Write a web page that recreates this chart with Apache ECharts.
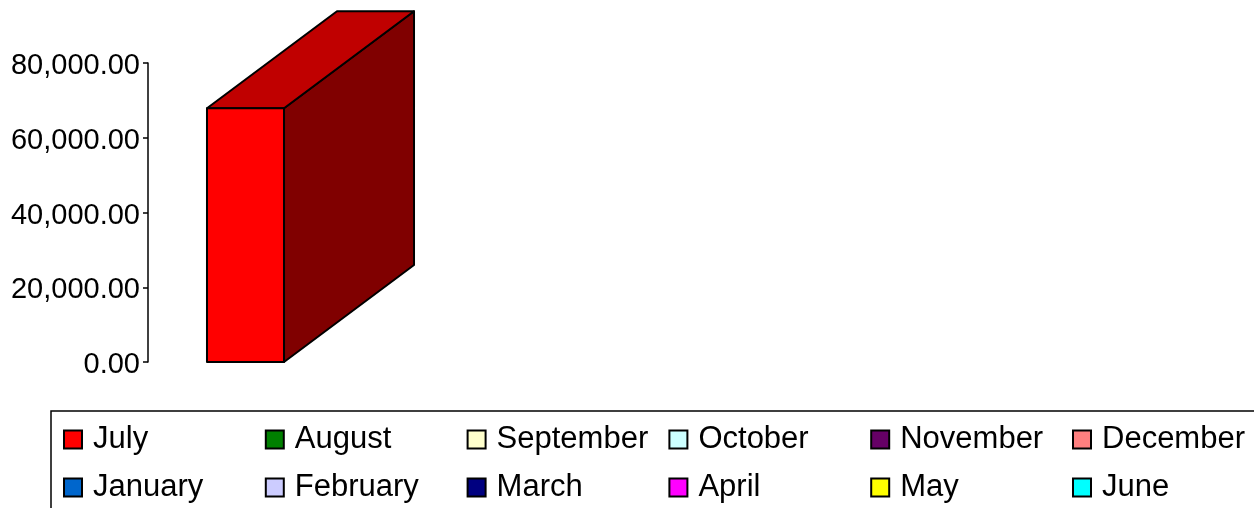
<!DOCTYPE html>
<html>
<head>
<meta charset="utf-8">
<script src="https://cdn.jsdelivr.net/npm/echarts@6/dist/echarts.min.js"></script>
<style>html,body{margin:0;padding:0;background:#fff;}#c{width:1254px;height:508px;}</style>
</head>
<body>
<div id="c"></div>
<script>
const categories = [''];
const months = ['July','August','September','October','November','December','January','February','March','April','May','June'];
const monthColors = ['#FF0000','#008000','#FFFFCC','#CCFFFF','#660066','#FF8080','#0066CC','#CCCCFF','#000080','#FF00FF','#FFFF00','#00FFFF'];
const julyValues = [67900];
const yTicks = { min: 0, max: 80000, interval: 20000 };

const chart = echarts.init(document.getElementById('c'), null, { renderer: 'canvas' });
const FONT = "'Liberation Sans', Arial, sans-serif";
const DX = 130, DY = 97;

function renderBar3D(params, api) {
  const v = api.value(1);
  const base = api.coord([api.value(0), 0]);
  const top = api.coord([api.value(0), v]);
  const bw = api.size([1, 0])[0] * 0.395;
  const x0 = base[0] - bw / 2, x1 = base[0] + bw / 2;
  const yt = top[1], yb = base[1];
  const stroke = { stroke: '#000', lineWidth: 2, lineJoin: 'round' };
  return {
    type: 'group',
    children: [
      { type: 'polygon', shape: { points: [[x1, yt], [x1 + DX, yt - DY], [x1 + DX, yb - DY], [x1, yb]] },
        style: Object.assign({ fill: '#800000' }, stroke) },
      { type: 'polygon', shape: { points: [[x0, yt], [x0 + DX, yt - DY], [x1 + DX, yt - DY], [x1, yt]] },
        style: Object.assign({ fill: '#C00000' }, stroke) },
      { type: 'rect', shape: { x: x0, y: yt, width: bw, height: yb - yt },
        style: Object.assign({ fill: '#FF0000' }, stroke) }
    ]
  };
}

const series = months.map((m, i) => {
  if (i === 0) {
    return {
      name: m, type: 'custom', renderItem: renderBar3D, clip: false,
      itemStyle: { color: monthColors[i] },
      data: julyValues.map((v, k) => [k, v]),
      encode: { x: 0, y: 1 }
    };
  }
  return { name: m, type: 'bar', itemStyle: { color: monthColors[i] }, data: [] };
});

const legends = months.map((m, i) => ({
  left: 63 + (i % 6) * 201.8, top: 424 + Math.floor(i / 6) * 48, padding: 0,
  itemWidth: 18, itemHeight: 18, icon: 'rect',
  itemStyle: { borderColor: '#000', borderWidth: 2 },
  textStyle: { fontFamily: FONT, fontSize: 31, color: '#000', padding: [0, 0, 0, 6] },
  data: [m]
}));

chart.setOption({
  animation: false,
  backgroundColor: '#fff',
  graphic: [{
    type: 'rect', shape: { x: 51, y: 411, width: 1220, height: 120 },
    style: { fill: 'none', stroke: '#000', lineWidth: 1.5 }, z: -1
  }],
  grid: { left: 148, top: 63, width: 195, height: 299 },
  xAxis: { type: 'category', data: categories, show: false },
  yAxis: {
    type: 'value', min: yTicks.min, max: yTicks.max, interval: yTicks.interval,
    splitLine: { show: false },
    axisLine: { show: true, lineStyle: { color: '#000', width: 1.5 } },
    axisTick: { show: true, length: 5, lineStyle: { color: '#000', width: 1.5 } },
    axisLabel: {
      margin: 8, color: '#000', fontFamily: FONT, fontSize: 29,
      formatter: v => '{a|' + v.toLocaleString('en-US', { minimumFractionDigits: 2, maximumFractionDigits: 2 }) + '}',
      rich: { a: { fontFamily: FONT, fontSize: 29, color: '#000', padding: [6, 0, 0, 0] } }
    }
  },
  legend: legends,
  series: series
});
</script>
</body>
</html>
